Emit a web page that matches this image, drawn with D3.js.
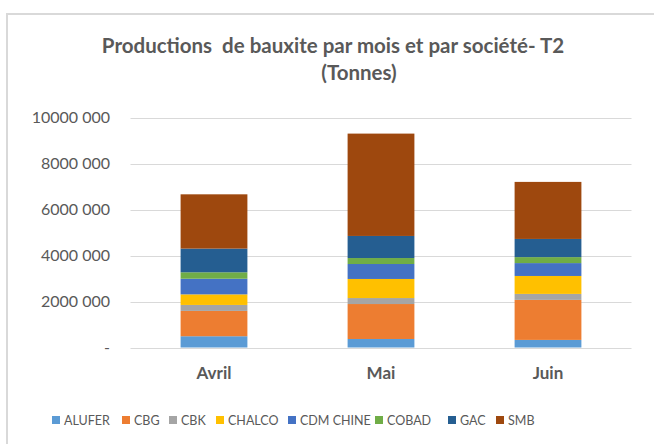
<!DOCTYPE html>
<html>
<head>
<meta charset="utf-8">
<script src="https://cdn.jsdelivr.net/npm/d3@7"></script>
<style>
html,body{margin:0;padding:0;background:#fff;}
svg{display:block;font-family:Lato,"Open Sans",sans-serif;}
</style>
</head>
<body>
<svg id="chart" width="654" height="444"></svg>
<script>
const months = ["Avril", "Mai", "Juin"];
const companies = ["ALUFER", "CBG", "CBK", "CHALCO", "CDM CHINE", "COBAD", "GAC", "SMB"];
const colors = ["#5B9BD5", "#ED7D31", "#A5A5A5", "#FFC000", "#4472C4", "#70AD47", "#255E91", "#9E480E"];
const ALUFER = [490000, 370000, 330000];
const CBG = [1100000, 1520000, 1740000];
const CBK = [260000, 260000, 260000];
const CHALCO = [460000, 830000, 780000];
const CDM_CHINE = [680000, 650000, 560000];
const COBAD = [280000, 260000, 260000];
const GAC = [1030000, 960000, 790000];
const SMB = [2360000, 4450000, 2480000];
const tickValues = [0, 2000000, 4000000, 6000000, 8000000, 10000000];
const tickLabels = ["-", "2000 000", "4000 000", "6000 000", "8000 000", "10000 000"];

const seriesArrays = [ALUFER, CBG, CBK, CHALCO, CDM_CHINE, COBAD, GAC, SMB];
const rows = months.map((m, i) => {
  const r = {month: m};
  companies.forEach((c, j) => r[c] = seriesArrays[j][i]);
  return r;
});

const svg = d3.select("#chart");
const textCol = "#595959";

// outer border
svg.append("rect").attr("x", 7).attr("y", 14).attr("width", 660).attr("height", 450)
  .attr("fill", "none").attr("stroke", "#d9d9d9").attr("stroke-width", 2);

const x = d3.scaleBand().domain(months).range([130.5, 631.5]).paddingInner(0.6).paddingOuter(0.3);
const y = d3.scaleLinear().domain([0, 10000000]).range([347.5, 117.5]);

// gridlines
svg.append("g").selectAll("line").data(tickValues).join("line")
  .attr("x1", 130.5).attr("x2", 631.5)
  .attr("y1", d => Math.round(y(d)) + 0.5).attr("y2", d => Math.round(y(d)) + 0.5)
  .attr("stroke", "#d9d9d9").attr("stroke-width", 1);

// y axis labels
const yAxis = d3.axisLeft(y).tickValues(tickValues)
  .tickFormat((d, i) => tickLabels[i]).tickSize(0).tickPadding(0);
const yg = svg.append("g").attr("transform", "translate(110,0)").call(yAxis);
yg.select(".domain").remove();
yg.selectAll("text").attr("fill", textCol).attr("font-size", 16)
  .attr("font-family", "Lato, sans-serif");

// stacked bars
const stack = d3.stack().keys(companies);
const stacked = stack(rows);
svg.append("g").selectAll("g").data(stacked).join("g")
  .attr("fill", (d, i) => colors[i])
  .selectAll("rect").data(d => d).join("rect")
  .attr("x", d => x(d.data.month))
  .attr("width", x.bandwidth())
  .attr("y", d => y(d[1]))
  .attr("height", d => y(d[0]) - y(d[1]));

// x axis labels
const xAxis = d3.axisBottom(x).tickSize(0).tickPadding(0);
const xg = svg.append("g").attr("transform", "translate(0,367)").call(xAxis);
xg.select(".domain").remove();
xg.selectAll("text").attr("fill", textCol).attr("font-size", 17).attr("font-weight", "bold")
  .attr("font-family", "Lato, sans-serif");

// title
svg.append("text").attr("x", 333).attr("y", 53).attr("text-anchor", "middle")
  .attr("fill", textCol).attr("font-size", 20.5).attr("font-weight", "bold")
  .style("white-space", "pre")
  .text("Productions  de bauxite par mois et par société- T2");
svg.append("text").attr("x", 359).attr("y", 80).attr("text-anchor", "middle")
  .attr("fill", textCol).attr("font-size", 20.5).attr("font-weight", "bold")
  .text("(Tonnes)");

// legend
const legendX = [52, 122, 169, 216, 288, 375, 448, 496];
const lg = svg.append("g").selectAll("g").data(companies).join("g")
  .attr("transform", (d, i) => `translate(${legendX[i]},420)`);
lg.append("rect").attr("x", 0).attr("y", -4).attr("width", 8).attr("height", 8)
  .attr("fill", (d, i) => colors[i]);
lg.append("text").attr("x", 12).attr("y", 5).attr("fill", textCol).attr("font-size", 12.5)
  .text(d => d);
</script>
</body>
</html>
